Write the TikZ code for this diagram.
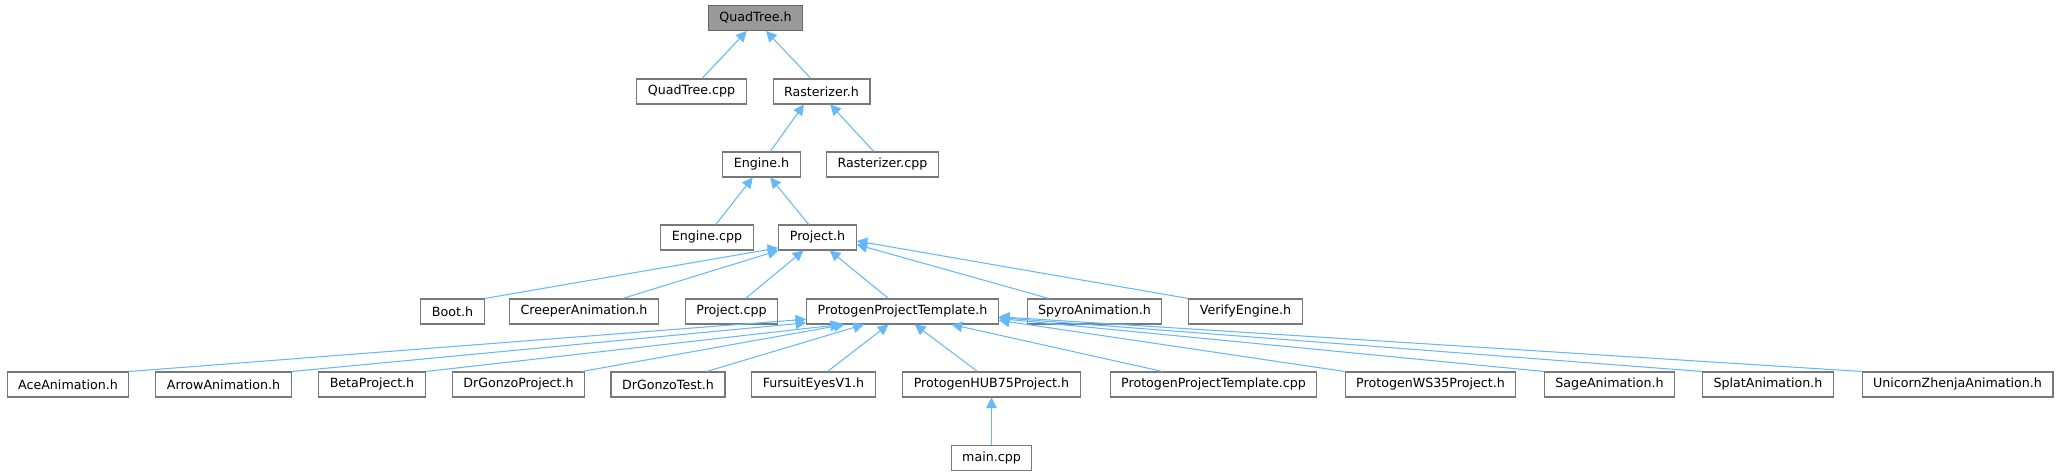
\documentclass[tikz,border=0pt]{standalone}
\usepackage{fontspec}
\setmainfont{DejaVu Sans}
\usepackage{xcolor}
\usepackage{tikz}
\usetikzlibrary{arrows.meta}
\definecolor{edgeblue}{RGB}{99, 184, 255}
\definecolor{boxgrey}{RGB}{120, 120, 120}
\definecolor{rootgrey}{RGB}{153, 153, 153}
\definecolor{rootline}{RGB}{102, 102, 102}

\begin{document}
\begin{tikzpicture}[
    x=0.02cm, y=-0.02cm,
    file/.style={rectangle, draw=boxgrey, fill=white, line width=0.6pt, minimum height=0.5cm, inner xsep=6.3pt, inner ysep=0pt, font=\fontsize{7.2}{8}\selectfont},
    root/.style={file, draw=rootline, fill=rootgrey},
    dep/.style={-{Triangle[length=6pt, width=6pt]}, draw=edgeblue, line width=0.6pt}
]
    \useasboundingbox (0,0) rectangle (2061,476);

    \node[root] (qt) at (755.5,18) {QuadTree.h};
    \node[file] (qtcpp) at (691.5,91.5) {QuadTree.cpp};
    \node[file] (ras) at (821.5,91.5) {Rasterizer.h};
    \node[file] (eng) at (761.5,164.5) {Engine.h};
    \node[file] (rascpp) at (882.5,164.5) {Rasterizer.cpp};
    \node[file] (engcpp) at (707,237.5) {Engine.cpp};
    \node[file] (prj) at (817.5,237.5) {Project.h};

    \node[file] (boot) at (452.5,311.5) {Boot.h};
    \node[file] (creeper) at (584,311.5) {CreeperAnimation.h};
    \node[file] (prjcpp) at (731.5,311.5) {Project.cpp};
    \node[file] (ppt) at (902.5,311.5) {ProtogenProjectTemplate.h};
    \node[file] (spyro) at (1094.5,311.5) {SpyroAnimation.h};
    \node[file] (verify) at (1245.5,311.5) {VerifyEngine.h};

    \node[file] (ace) at (68,384.5) {AceAnimation.h};
    \node[file] (arrowanim) at (223.5,384.5) {ArrowAnimation.h};
    \node[file] (beta) at (372,384.5) {BetaProject.h};
    \node[file] (gonzoprj) at (518.5,384.5) {DrGonzoProject.h};
    \node[file] (gonzotest) at (668,384.5) {DrGonzoTest.h};
    \node[file] (fursuit) at (813.5,384.5) {FursuitEyesV1.h};
    \node[file] (hub) at (991.5,384.5) {ProtogenHUB75Project.h};
    \node[file] (pptcpp) at (1213.5,384.5) {ProtogenProjectTemplate.cpp};
    \node[file] (ws) at (1430.5,384.5) {ProtogenWS35Project.h};
    \node[file] (sage) at (1609.5,384.5) {SageAnimation.h};
    \node[file] (splat) at (1768,384.5) {SplatAnimation.h};
    \node[file] (unicorn) at (1957.5,384.5) {UnicornZhenjaAnimation.h};

    \node[file] (main) at (991.5,458) {main.cpp};

    \draw[dep] ([xshift=6pt]qtcpp.north) -- ([xshift=-5pt]qt.south);
    \draw[dep] ([xshift=-6pt]ras.north) -- ([xshift=6pt]qt.south);
    \draw[dep] ([xshift=5pt]eng.north) -- ([xshift=-10pt]ras.south);
    \draw[dep] ([xshift=-5pt]rascpp.north) -- ([xshift=5pt]ras.south);
    \draw[dep] ([xshift=5pt]engcpp.north) -- ([xshift=-5pt]eng.south);
    \draw[dep] ([xshift=-5pt]prj.north) -- ([xshift=5pt]eng.south);

    \draw[dep] (boot.north east) -- ([yshift=1.5pt]prj.south west);
    \draw[dep] ([xshift=22pt]creeper.north) -- (prj.south west);
    \draw[dep] ([xshift=8pt]prjcpp.north) -- ([xshift=-8pt]prj.south);
    \draw[dep] ([xshift=-8pt]ppt.north) -- ([xshift=7pt]prj.south);
    \draw[dep] ([xshift=-26pt]spyro.north) -- ([yshift=-4pt]prj.east);
    \draw[dep] (verify.north west) -- ([yshift=-2pt]prj.east);

    \draw[dep] (ace.north east) -- ([yshift=3pt]ppt.south west);
    \draw[dep] (arrowanim.north east) -- ([yshift=1pt]ppt.south west);
    \draw[dep] (beta.north east) -- ([xshift=-35pt]ppt.south);
    \draw[dep] ([xshift=36pt]gonzoprj.north) -- ([xshift=-33pt]ppt.south);
    \draw[dep] ([xshift=22pt]gonzotest.north) -- ([xshift=-22pt]ppt.south);
    \draw[dep] ([xshift=8pt]fursuit.north) -- ([xshift=-8pt]ppt.south);
    \draw[dep] ([xshift=-8pt]hub.north) -- ([xshift=7pt]ppt.south);
    \draw[dep] ([xshift=-29pt]pptcpp.north) -- ([xshift=28pt]ppt.south);
    \draw[dep] (ws.north west) -- ([yshift=-5pt]ppt.east);
    \draw[dep] (sage.north west) -- ([yshift=-4pt]ppt.east);
    \draw[dep] (splat.north west) -- ([yshift=-3.5pt]ppt.east);
    \draw[dep] (unicorn.north west) -- ([yshift=-3pt]ppt.east);

    \draw[dep] (main) -- (hub);
\end{tikzpicture}
\end{document}
